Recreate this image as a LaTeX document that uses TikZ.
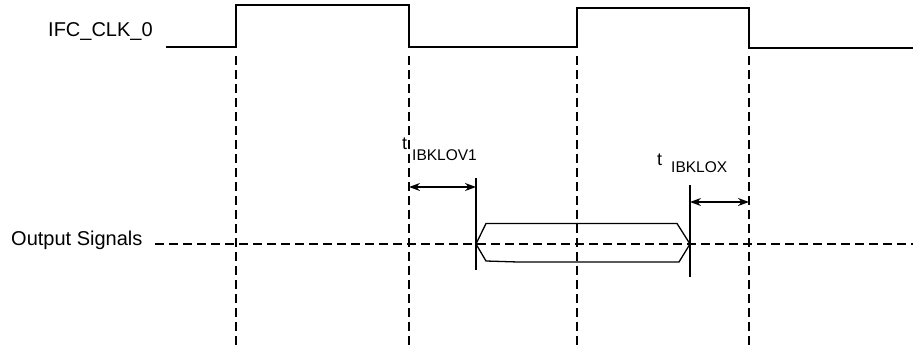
\documentclass[tikz,border=0pt]{standalone}
\usepackage{fontspec}
\setmainfont{Liberation Sans}
\usetikzlibrary{arrows.meta}
\begin{document}
\begin{tikzpicture}[x=1pt,y=-1pt,
  sig/.style={line width=1.7pt, line join=miter},
  guide/.style={line width=1.8pt, dash pattern=on 9pt off 5pt},
  bus/.style={line width=1.3pt},
  edge/.style={line width=1.8pt},
  dim/.style={line width=1.4pt, {Stealth[length=11pt,width=8pt]}-{Stealth[length=11pt,width=8pt]}},
  lbl/.style={inner sep=0pt, font=\fontsize{20}{24}\selectfont},
  tee/.style={inner sep=0pt, font=\fontsize{18}{22}\selectfont},
  sub/.style={inner sep=0pt, font=\fontsize{15.5}{18}\selectfont}]
\useasboundingbox (0,0) rectangle (913,346);
% clock
\draw[sig] (166,47) -- (236,47) -- (236,5) -- (409,5) -- (409,47) -- (577,47) -- (577,8) -- (749,8) -- (749,48) -- (913,48);
\node[lbl, anchor=base west] (clk) at (48,36) {IFC\_CLK\_0};
% guides
\coordinate (g1) at (236,346); \coordinate (g2) at (409,346);
\coordinate (g3) at (577,346); \coordinate (g4) at (749,346);
\draw[guide] (236,56) -- (g1);
\draw[guide] (409,56) -- (g2);
\draw[guide] (577,56) -- (g3);
\draw[guide] (749,56) -- (g4);
% output signals
\node[lbl, anchor=base west] (out) at (11,245) {Output Signals};
\coordinate (oe) at (913,244);
\draw[guide] (155,244) -- (oe);
% bus
\coordinate (bl) at (476,244); \coordinate (br) at (690,244);
\draw[bus] (bl) -- (486,223.5) -- (677,223.5) -- (br) -- (679,262) -- (518,262) -- (486,261) -- cycle;
% edges
\draw[edge] (476,178) -- (476,270);
\draw[edge] (690,185) -- (690,277);
% dims
\coordinate (a1) at (409,187); \coordinate (a2) at (476,187);
\draw[dim] (a1) -- (a2);
\coordinate (b1) at (690,202); \coordinate (b2) at (749,202);
\draw[dim] (b1) -- (b2);
% labels
\node[tee, anchor=base west] (t1) at (402,149) {t};
\node[sub, anchor=base west] (s1) at (412,160) {IBKLOV1};
\node[tee, anchor=base west] (t2) at (657,165) {t};
\node[sub, anchor=base west] (s2) at (671,172) {IBKLOX};
\end{tikzpicture}
\end{document}
